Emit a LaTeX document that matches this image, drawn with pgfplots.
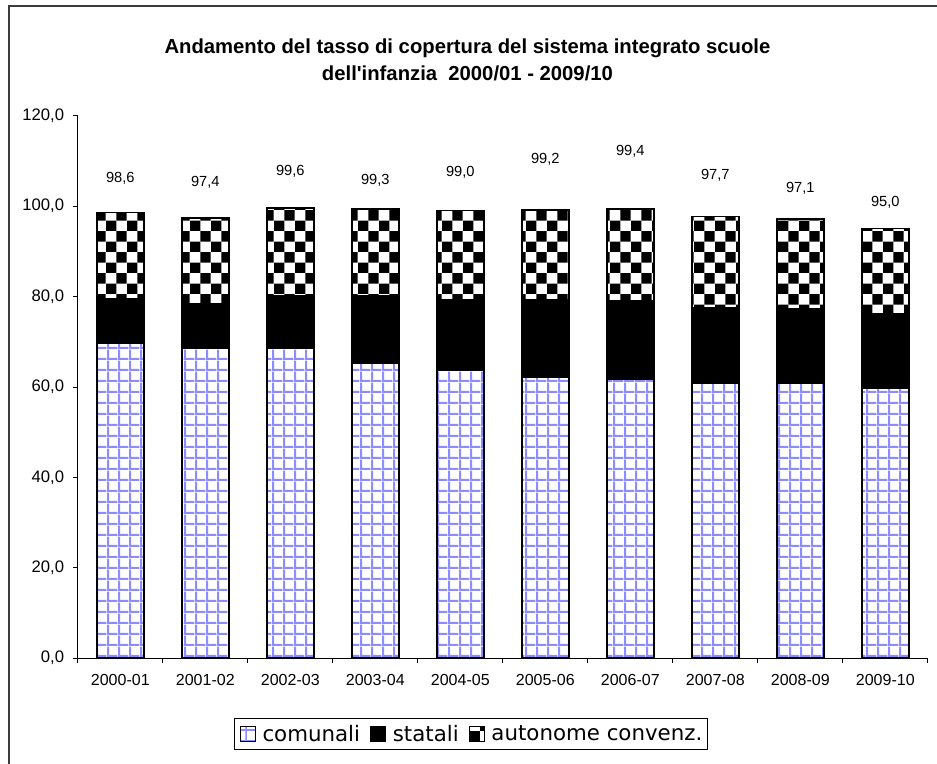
\documentclass[border=0pt]{standalone}
\usepackage{fontspec}
\setmainfont{Liberation Sans}
\newfontfamily\titlefont{Liberation Sans}[Ligatures=TeXOff]
\newfontfamily\legendfont{DejaVu Sans}
\usepackage{pgfplots}
\usepackage{pgfplotstable}
\pgfplotsset{compat=1.18}
\usetikzlibrary{patterns.meta}

\definecolor{gridblue}{RGB}{140,140,255}
\definecolor{framegray}{RGB}{60,60,60}

\tikzdeclarepattern{
  name=bigchecker,
  type=uncolored,
  bottom left={(0pt,0pt)},
  top right={(16pt,16pt)},
  tile size={(16pt,16pt)},
  code={
    \fill (0pt,0pt) rectangle (8pt,8pt);
    \fill (8pt,8pt) rectangle (16pt,16pt);
  }
}
\tikzdeclarepattern{
  name=biggrid,
  type=uncolored,
  bottom left={(0pt,0pt)},
  top right={(8pt,8pt)},
  tile size={(8pt,8pt)},
  code={
    \fill (0pt,0pt) rectangle (8pt,1.6pt);
    \fill (0pt,0pt) rectangle (1.6pt,8pt);
  }
}

\pgfplotstableread{
x com stat aut
0 69.7 9.8 19.1
1 68.5 9.9 19.0
2 68.5 11.7 19.4
3 65.2 14.9 19.2
4 63.7 15.5 19.8
5 62.1 17.2 19.9
6 61.8 17.2 20.4
7 60.9 16.6 20.2
8 60.9 16.4 19.8
9 59.7 16.4 18.9
}\datatable

\pgfplotstableread{
x y lab
0 106.2 98,6
1 105.2 97,4
2 107.6 99,6
3 105.8 99,3
4 107.4 99,0
5 110.4 99,2
6 112.2 99,4
7 106.7 97,7
8 104.0 97,1
9 100.8 95,0
}\labeltable

\begin{document}
\begin{tikzpicture}
\useasboundingbox (0pt,0pt) rectangle (702.75pt,-572.25pt);
% outer frame
\draw[framegray, line width=1.5pt] (6.5pt,-580pt) -- (6.5pt,-4.5pt) -- (710pt,-4.5pt);
% title
\node[anchor=base, font=\titlefont\bfseries\fontsize{15.2}{18}\selectfont] at (350.6pt,-40pt)
  {Andamento del tasso di copertura del sistema integrato scuole};
\node[anchor=base, font=\titlefont\bfseries\fontsize{15.2}{18}\selectfont] at (350.6pt,-60.75pt)
  {dell'infanzia\ \ 2000/01 - 2009/10};

\begin{axis}[
  at={(58.35pt,-493.65pt)}, anchor=south west,
  scale only axis, width=637.5pt, height=406.9pt,
  ybar stacked, bar width=35.25pt,
  xmin=-0.5, xmax=9.5, ymin=0, ymax=120,
  enlarge x limits=false, enlarge y limits=false,
  axis lines*=left,
  axis line style={black, line width=0.6pt},
  tick align=outside,
  xtick={0,...,9},
  xticklabels={2000-01,2001-02,2002-03,2003-04,2004-05,2005-06,2006-07,2007-08,2008-09,2009-10},
  minor xtick={-0.5,0.5,...,9.5},
  major x tick style={draw=none},
  minor x tick style={draw=black, line width=0.6pt},
  minor tick length=3.75pt,
  major tick length=3.75pt,
  ytick={0,20,...,120},
  y tick style={black, line width=0.6pt},
  y tick label style={/pgf/number format/fixed, /pgf/number format/fixed zerofill,
    /pgf/number format/precision=1, /pgf/number format/use comma,
    /pgf/number format/assume math mode=true, font=\fontsize{12.5}{15}\selectfont, xshift=-3pt},
  x tick label style={font=\fontsize{12}{14}\selectfont, yshift=-5pt},
  legend style={at={(0.4626,-0.1397)}, anchor=center, draw=black, line width=0.6pt,
    font=\legendfont\fontsize{16}{19}\selectfont, inner xsep=4pt, inner ysep=3pt,
    nodes={inner xsep=0pt},
    /tikz/every odd column/.append style={column sep=5.25pt},
    /tikz/every even column/.append style={column sep=7.5pt}},
  legend columns=3,
  legend image code/.code={\draw[#1, line width=0.6pt] (0pt,-5.2pt) rectangle (11.25pt,6pt);},
]
\addplot[draw=black, line width=1.2pt, pattern=biggrid, pattern color=gridblue] table[x=x, y=com] {\datatable};
\addplot[draw=black, line width=1.2pt, fill=black] table[x=x, y=stat] {\datatable};
\addplot[draw=black, line width=1.2pt, pattern=bigchecker, pattern color=black] table[x=x, y=aut] {\datatable};
\legend{comunali, statali, autonome convenz.}
\end{axis}

\begin{axis}[
  at={(58.35pt,-493.65pt)}, anchor=south west,
  scale only axis, width=637.5pt, height=406.9pt,
  xmin=-0.5, xmax=9.5, ymin=0, ymax=120,
  enlarge x limits=false, enlarge y limits=false,
  hide axis,
]
\addplot[only marks, mark=none, nodes near coords, point meta=explicit symbolic,
  nodes near coords align=center,
  every node near coord/.append style={font=\fontsize{11}{13}\selectfont}]
  table[x=x, y=y, meta=lab] {\labeltable};
\end{axis}
\end{tikzpicture}
\end{document}
